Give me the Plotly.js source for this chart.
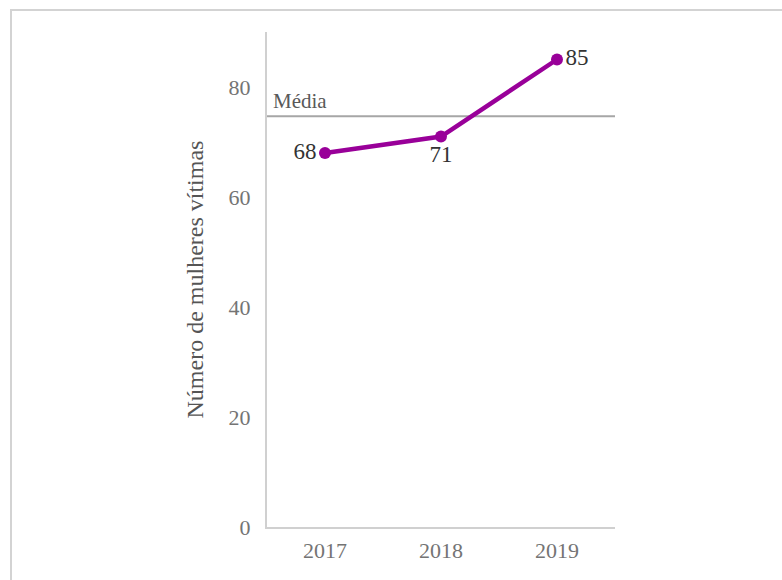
<!DOCTYPE html>
<html>
<head>
<meta charset="utf-8">
<script src="https://cdn.plot.ly/plotly-3.0.1.min.js"></script>
<style>
  html, body { margin: 0; padding: 0; background: #fff; }
  #frame { position: absolute; left: 10px; top: 9px; width: 790px; height: 600px;
           border-left: 2px solid #d3d3d3; border-top: 2px solid #d3d3d3; }
  #chart { position: absolute; left: 0; top: 0; width: 782px; height: 580px; }
</style>
</head>
<body>
<div id="chart"></div>
<div id="frame"></div>
<script>
const years = ['2017', '2018', '2019'];
const victims = [68, 71, 85];
const valueLabelPositions = ['middle left', 'bottom center', 'middle right'];
const yTicks = [0, 20, 40, 60, 80];
const meanLabel = 'Média';
const yTitle = 'Número de mulheres vítimas';

const meanValue = victims.reduce((a, b) => a + b, 0) / victims.length;
const serif = 'Liberation Serif, Times New Roman, serif';

const trace = {
  x: years,
  y: victims,
  type: 'scatter',
  mode: 'lines+markers+text',
  text: victims.map(String),
  textposition: valueLabelPositions,
  textfont: { family: serif, size: 23, color: '#333333' },
  line: { color: '#990099', width: 4.5 },
  marker: { color: '#990099', size: 12 },
  cliponaxis: false,
  hoverinfo: 'x+y'
};

const layout = {
  width: 782,
  height: 580,
  margin: { l: 267, r: 167, t: 32, b: 53 },
  paper_bgcolor: 'rgba(0,0,0,0)',
  plot_bgcolor: 'rgba(0,0,0,0)',
  showlegend: false,
  font: { family: serif, color: '#808080' },
  xaxis: {
    type: 'category',
    range: [-0.5, 2.5],
    showgrid: false,
    zeroline: false,
    showline: true,
    linecolor: '#d0d0d0',
    linewidth: 2,
    ticks: '',
    ticklabelstandoff: 3,
    tickfont: { family: serif, size: 22, color: '#747474' },
    fixedrange: true
  },
  yaxis: {
    range: [0, 90],
    tickvals: yTicks,
    showgrid: false,
    zeroline: false,
    showline: true,
    linecolor: '#d0d0d0',
    linewidth: 2,
    ticks: '',
    ticklabelstandoff: 10,
    tickfont: { family: serif, size: 22, color: '#747474' },
    title: { text: yTitle, font: { family: serif, size: 24, color: '#555555' }, standoff: 18 },
    automargin: false,
    fixedrange: true
  },
  shapes: [{
    type: 'line',
    xref: 'paper', x0: 0, x1: 1,
    yref: 'y', y0: meanValue, y1: meanValue,
    line: { color: '#a6a6a6', width: 2 },
    layer: 'below'
  }],
  annotations: [{
    xref: 'paper', x: 0,
    yref: 'y', y: meanValue,
    xanchor: 'left', yanchor: 'bottom',
    xshift: 4, yshift: 1,
    text: meanLabel,
    showarrow: false,
    font: { family: serif, size: 21, color: '#595959' }
  }]
};

Plotly.newPlot('chart', [trace], layout, { displayModeBar: false, staticPlot: true });
</script>
</body>
</html>
